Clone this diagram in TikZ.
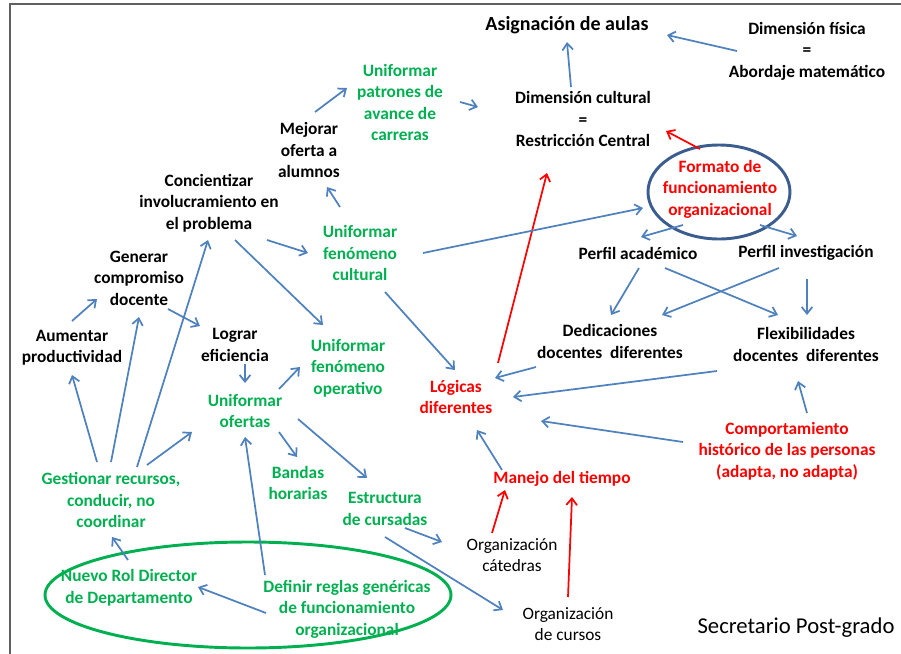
\documentclass[tikz,border=0pt]{standalone}
\usepackage{fontspec}
\setmainfont{Carlito}
\usetikzlibrary{arrows.meta}
\definecolor{og}{HTML}{00B050}
\definecolor{ob}{HTML}{4F81BD}
\definecolor{oel}{HTML}{3B5C8E}
\definecolor{ored}{HTML}{FF0000}
\definecolor{frm}{HTML}{606060}
\begin{document}
\begin{tikzpicture}[x=0.75pt,y=-0.75pt,
 lbl/.style={align=center,inner sep=0pt,font=\bfseries\fontsize{13}{16.1}\selectfont},
 lblr/.style={lbl,font=\fontsize{13}{16.1}\selectfont},
 gtx/.style={lbl,text=og},
 rtx/.style={lbl,text=ored},
 arr/.style={draw=ob,line width=1.3pt,-{Straight Barb[length=5pt,width=8pt]}},
 rarr/.style={arr,draw=ored},
]
\useasboundingbox (0,0) rectangle (901,654);
\draw[frm,line width=1.6pt] (10,654) -- (10,4) -- (901,4);

% ellipses
\draw[oel,line width=2.2pt] (719,192) ellipse [x radius=71,y radius=47];
\draw[og,line width=2.2pt] (248,595) ellipse [x radius=203,y radius=53];

% nodes
\node[lbl,font=\bfseries\fontsize{15}{18}\selectfont] (asig) at (567,25) {Asignación de aulas};
\node[lbl] (dimfis) at (807,51) {Dimensión física\\=\\Abordaje matemático};
\node[lbl] (dimcult) at (583,119) {Dimensión cultural\\=\\Restricción Central};
\node[rtx] (formato) at (720,189) {Formato de\\funcionamiento\\organizacional};
\node[lbl] (perfacad) at (638,253) {Perfil académico};
\node[lbl] (perfinv) at (806,253) {Perfil investigación};
\node[lbl] (dedic) at (610,341.5) {Dedicaciones\\docentes\ \ diferentes};
\node[lbl] (flex) at (806,344.5) {Flexibilidades\\docentes\ \ diferentes};
\node[rtx] (logicas) at (456,397) {Lógicas\\diferentes};
\node[rtx] (manejo) at (562,479) {Manejo del tiempo};
\node[rtx] (comport) at (787,451) {Comportamiento\\histórico de las personas\\(adapta, no adapta)};
\node[lblr] (orgcat) at (512,555) {Organización\\cátedras};
\node[lblr] (orgcur) at (568,624) {Organización\\de cursos};
\node[lblr,font=\fontsize{17}{20}\selectfont] (secret) at (796,628) {Secretario Post-grado};

\node[gtx] (patrones) at (400,102.5) {Uniformar\\patrones de\\avance de\\carreras};
\node[lbl] (mejorar) at (309,150) {Mejorar\\oferta a\\alumnos};
\node[lbl] (concien) at (209,203) {Concientizar\\involucramiento en\\el problema};
\node[gtx] (unifcult) at (360,253) {Uniformar\\fenómeno\\cultural};
\node[lbl] (generar) at (139,278) {Generar\\compromiso\\docente};
\node[lbl] (aumentar) at (72,348) {Aumentar\\productividad};
\node[lbl] (lograr) at (235,345) {Lograr\\eficiencia};
\node[gtx] (unifop) at (348,368) {Uniformar\\fenómeno\\operativo};
\node[gtx] (unifof) at (245,411) {Uniformar\\ofertas};
\node[gtx] (bandas) at (298,483) {Bandas\\horarias};
\node[gtx] (estruct) at (385,509) {Estructura\\de cursadas};
\node[gtx] (gestion) at (111,500) {Gestionar recursos,\\conducir, no\\coordinar};
\node[gtx] (nuevo) at (129,588) {Nuevo Rol Director\\de Departamento};
\node[gtx] (definir) at (347,609) {Definir reglas genéricas\\de funcionamiento\\organizacional};

% connectors
\draw[arr] ([shift={(-70,0)}]dimfis.center) -- ([shift={(100,10)}]asig.center);
\draw[arr] ([shift={(-12,-32)}]dimcult.center) -- ([shift={(0,17)}]asig.center);
\draw[rarr] ([shift={(-20,-40)}]formato.center) -- ([shift={(83,12)}]dimcult.center);
\draw[rarr] ([shift={(42,-34)}]logicas.center) -- ([shift={(-36,54)}]dimcult.center);
\draw[arr] ([shift={(63,0)}]unifcult.center) -- ([shift={(-77,19)}]formato.center);
\draw[arr] ([shift={(-37,36)}]formato.center) -- ([shift={(3,-16)}]perfacad.center);
\draw[arr] ([shift={(40,36)}]formato.center) -- ([shift={(-9,-17)}]perfinv.center);
\draw[arr] ([shift={(1,15)}]perfacad.center) -- ([shift={(1,-26.5)}]dedic.center);
\draw[arr] ([shift={(27,15)}]perfacad.center) -- ([shift={(-28,-29.5)}]flex.center);
\draw[arr] ([shift={(-27,15)}]perfinv.center) -- ([shift={(52,-26.5)}]dedic.center);
\draw[arr] ([shift={(1,26)}]perfinv.center) -- ([shift={(1,-29.5)}]flex.center);
\draw[arr] ([shift={(-74,25.5)}]dedic.center) -- ([shift={(39,-19)}]logicas.center);
\draw[arr] ([shift={(-89,26.5)}]flex.center) -- ([shift={(57,0)}]logicas.center);
\draw[arr] ([shift={(20,-38)}]comport.center) -- ([shift={(-8,36.5)}]flex.center);
\draw[arr] ([shift={(-104,-9)}]comport.center) -- ([shift={(85,24)}]logicas.center);
\draw[arr] ([shift={(-60,-9)}]manejo.center) -- ([shift={(21,33)}]logicas.center);
\draw[rarr] ([shift={(-20,-22)}]orgcat.center) -- ([shift={(-57,11)}]manejo.center);
\draw[rarr] ([shift={(0,-27)}]orgcur.center) -- ([shift={(10,18)}]manejo.center);
\draw[arr] ([shift={(25,39)}]unifcult.center) -- ([shift={(-1,-27)}]logicas.center);
\draw[arr] ([shift={(26,37)}]concien.center) -- ([shift={(-25,-43)}]unifop.center);
\draw[arr] ([shift={(58,37)}]concien.center) -- ([shift={(-52,0)}]unifcult.center);
\draw[arr] ([shift={(-20,-46)}]unifcult.center) -- ([shift={(18,37)}]mejorar.center);
\draw[arr] ([shift={(6,-38)}]mejorar.center) -- ([shift={(-53,-14.5)}]patrones.center);
\draw[arr] ([shift={(60,-0.5)}]patrones.center) -- ([shift={(-105,-12)}]dimcult.center);
\draw[arr] ([shift={(29,31)}]generar.center) -- ([shift={(-35,-19)}]lograr.center);
\draw[arr] ([shift={(0,-27)}]aumentar.center) -- ([shift={(-42,21)}]generar.center);
\draw[arr] ([shift={(-14,-38)}]gestion.center) -- ([shift={(0,27)}]aumentar.center);
\draw[arr] ([shift={(0,-38)}]gestion.center) -- ([shift={(0,39)}]generar.center);
\draw[arr] ([shift={(26,-33)}]gestion.center) -- ([shift={(-1,37)}]concien.center);
\draw[arr] ([shift={(36,-35)}]gestion.center) -- ([shift={(-53,21)}]unifof.center);
\draw[arr] ([shift={(10,19)}]lograr.center) -- ([shift={(0,-28)}]unifof.center);
\draw[arr] ([shift={(34,-22)}]unifof.center) -- ([shift={(-48,-1)}]unifop.center);
\draw[arr] ([shift={(34,21)}]unifof.center) -- ([shift={(-1,-26)}]bandas.center);
\draw[arr] ([shift={(53,8)}]unifof.center) -- ([shift={(-18,-31)}]estruct.center);
\draw[arr] ([shift={(20,19)}]estruct.center) -- ([shift={(-70,-13)}]orgcat.center);
\draw[arr] ([shift={(0,28)}]estruct.center) -- ([shift={(-65,-14)}]orgcur.center);
\draw[arr] ([shift={(-1,-28)}]nuevo.center) -- ([shift={(1,37)}]gestion.center);
\draw[arr] ([shift={(-81,4)}]definir.center) -- ([shift={(69,-1)}]nuevo.center);
\draw[arr] ([shift={(-82,-34)}]definir.center) -- ([shift={(0,26)}]unifof.center);
\end{tikzpicture}
\end{document}
